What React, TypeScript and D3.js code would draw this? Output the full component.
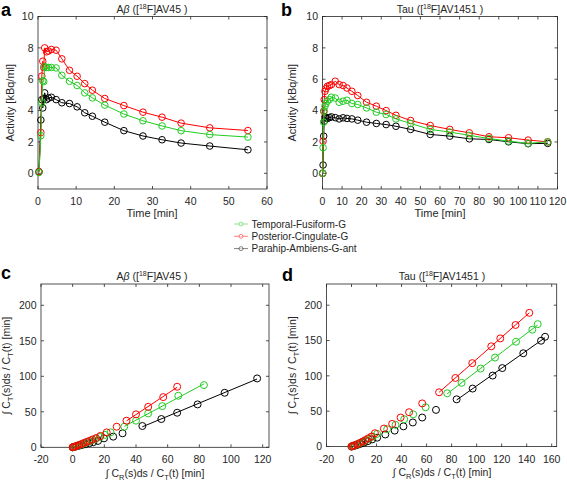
import React from "react";
import * as d3 from "d3";

// ---------- data ----------
const avTimes = [0.25, 0.75, 1.0, 1.25, 1.5, 1.75, 2.25, 2.75, 3.5, 4.75, 6.25, 8.25, 10.25, 12.25, 14.25, 17.5, 22.5, 27.5, 32.5, 37.5, 45, 55];
const avGreen = [0.05, 2.4, 4.5, 5.9, 5.85, 6.8, 6.75, 6.75, 6.75, 6.72, 6.25, 5.87, 5.6, 5.13, 4.81, 4.35, 3.78, 3.35, 3.02, 2.72, 2.47, 2.31];
const avRed = [0.1, 2.6, 6.2, 7.15, 6.75, 8.0, 7.75, 7.8, 7.9, 7.85, 7.3, 6.57, 6.19, 5.72, 5.3, 4.77, 4.32, 3.9, 3.58, 3.2, 2.9, 2.73];
const avBlack = [0.1, 3.4, 4.7, 4.17, 4.77, 5.13, 4.7, 4.8, 4.85, 4.7, 4.5, 4.45, 4.24, 3.86, 3.64, 3.26, 2.72, 2.38, 2.14, 1.93, 1.74, 1.5];

const tauTimes = [0.1, 0.3, 0.6, 0.9, 1.25, 1.75, 2.5, 3.5, 4.5, 6.5, 8.5, 10.5, 12.5, 15, 18, 22.5, 27.5, 32.5, 37.5, 45, 55, 65, 75, 85, 95, 105, 115];
const tauGreen = [0, 1.63, 3.26, 3.96, 4.28, 4.45, 4.6, 4.7, 4.85, 4.8, 4.53, 4.6, 4.66, 4.45, 4.39, 4.17, 3.9, 3.75, 3.47, 3.18, 2.8, 2.63, 2.42, 2.22, 2.05, 1.91, 2.01];
const tauRed = [0, 2.05, 3.96, 4.7, 5.23, 5.4, 5.55, 5.6, 5.65, 5.87, 5.66, 5.6, 5.44, 5.23, 4.96, 4.53, 4.28, 4.0, 3.7, 3.37, 3.05, 2.8, 2.58, 2.33, 2.27, 2.12, 2.01];
const tauBlack = [0, 0.53, 2.37, 3.33, 3.6, 3.54, 3.5, 3.55, 3.6, 3.55, 3.47, 3.54, 3.5, 3.47, 3.39, 3.26, 3.18, 3.11, 3.0, 2.8, 2.48, 2.37, 2.2, 2.16, 2.01, 1.89, 1.91];

// Logan plots (x = ∫CR/CT, y = ∫CT/CT), fitStart = first index of linear fit
const loganAvGreenX = [0, 0.6, 1.8, 3.2, 4.7, 6.3, 8, 10, 12, 14.5, 17.2, 20.5, 24, 32.6, 40, 47.7, 56.6, 66.7, 82.9];
const loganAvGreenY = [0, 0.5, 1.3, 2.4, 3.5, 4.8, 6.3, 8, 9.8, 12, 14.5, 17.5, 21, 29, 37.5, 47.8, 58, 72.6, 87.6];
const loganAvRedX = [0, 0.5, 1.5, 2.8, 4, 5.5, 7, 8.7, 10.5, 12.5, 14.8, 17.5, 21.5, 27.8, 34, 40, 47.7, 57.2, 66];
const loganAvRedY = [0, 0.5, 1.2, 2.2, 3.3, 4.5, 6, 7.5, 9, 11, 13, 16, 21, 29, 37.5, 46.4, 57, 70.7, 85.3];
const loganAvBlackX = [0, 0.8, 2.2, 4, 6, 8.2, 10.5, 13, 16, 19.8, 25.6, 31.5, 44, 56, 66, 78.9, 96, 116.5];
const loganAvBlackY = [0, 0.4, 1.2, 2.2, 3.3, 4.5, 5.8, 7.2, 9, 12.6, 15, 19.7, 30, 39.8, 48.7, 60.4, 76.8, 97];
const loganAvFitStart = [13, 14, 12];

const loganTauGreenX = [0, 1.2, 2.5, 4.2, 6.1, 8.5, 11.2, 14, 17, 20.5, 28.5, 35.2, 42.1, 49.3, 59.2, 76.5, 88, 103.2, 114.7, 131.5, 144.5, 148.8];
const loganTauGreenY = [0, 0.8, 1.8, 3, 4.5, 6.2, 8.5, 11, 14, 17.9, 24.5, 30.6, 38.6, 45.6, 55.5, 75.3, 90.1, 110.3, 125.9, 148.3, 165.3, 173.2];
const loganTauRedX = [0, 1, 2.3, 4.5, 6.7, 8.8, 10.9, 13.3, 15.9, 18.7, 25.9, 32.5, 39.2, 46, 56.5, 70, 83, 96.5, 111.7, 118.9, 131.1, 142.1];
const loganTauRedY = [0, 0.8, 1.8, 3.2, 5, 7, 9, 11.5, 14, 18.8, 25.4, 32, 41, 48.5, 61, 76.7, 97, 118, 141.8, 153, 172, 189.2];
const loganTauBlackX = [0, 1.3, 3, 5, 7.5, 10, 13, 16.5, 20.5, 27, 34.5, 41.5, 49, 56.5, 67.5, 84, 96.8, 112.8, 120.5, 137.3, 151.5, 154.7];
const loganTauBlackY = [0, 0.6, 1.4, 2.5, 4, 5.5, 7.5, 10, 12.5, 17, 22.5, 28.5, 34, 41, 51.8, 66.8, 82, 100.4, 111, 132, 149.7, 155.3];
const loganTauFitStart = [15, 15, 15];

const seriesNames = ["Temporal-Fusiform-G", "Posterior-Cingulate-G", "Parahip-Ambiens-G-ant"];
const seriesColors = ["#22cc22", "#ff0000", "#000000"];

const activityTicksY = [0, 2, 4, 6, 8, 10];
const avTicksX = [0, 10, 20, 30, 40, 50, 60];
const tauTicksX = [0, 10, 20, 30, 40, 50, 60, 70, 80, 90, 100, 110, 120];
const loganTicksY = [0, 50, 100, 150, 200];
const loganAvTicksX = [-20, 0, 20, 40, 60, 80, 100, 120];
const loganTauTicksX = [-20, 0, 20, 40, 60, 80, 100, 120, 140, 160];

// ---------- styling ----------
const FONT = "'Liberation Sans', Arial, Helvetica, sans-serif";
const TXT = "#262626";
const AX = "#262626";

type Scale = d3.ScaleLinear<number, number>;

function Axes({ xs, ys, xticks, yticks }: { xs: Scale; ys: Scale; xticks: number[]; yticks: number[] }) {
  const [x0, x1] = xs.range();
  const [y0, y1] = ys.range(); // y0 bottom, y1 top
  const tl = 3;
  return (
    <g>
      <rect x={x0} y={y1} width={x1 - x0} height={y0 - y1} fill="none" stroke={AX} strokeWidth={0.8} />
      {xticks.map((t) => (
        <g key={"x" + t}>
          <line x1={xs(t)} x2={xs(t)} y1={y0} y2={y0 - tl} stroke={AX} strokeWidth={0.8} />
          <line x1={xs(t)} x2={xs(t)} y1={y1} y2={y1 + tl} stroke={AX} strokeWidth={0.8} />
          <text x={xs(t)} y={y0 + 16} textAnchor="middle" fontSize={10.5} fill={TXT} fontFamily={FONT}>
            {t}
          </text>
        </g>
      ))}
      {yticks.map((t) => (
        <g key={"y" + t}>
          <line x1={x0} x2={x0 + tl} y1={ys(t)} y2={ys(t)} stroke={AX} strokeWidth={0.8} />
          <line x1={x1} x2={x1 - tl} y1={ys(t)} y2={ys(t)} stroke={AX} strokeWidth={0.8} />
          <text x={x0 - 4.5} y={ys(t) + 3.8} textAnchor="end" fontSize={10.5} fill={TXT} fontFamily={FONT}>
            {t}
          </text>
        </g>
      ))}
    </g>
  );
}

function Title({ x, y, prefix, tracer }: { x: number; y: number; prefix: React.ReactNode; tracer: string }) {
  return (
    <text x={x} y={y} textAnchor="middle" fontSize={10.5} fill={TXT} fontFamily={FONT}>
      {prefix}
      {" (["}
      <tspan fontSize={7} dy={-4}>18</tspan>
      <tspan dy={4}>{"F]" + tracer + " )"}</tspan>
    </text>
  );
}

function TimeSeries({ xs, ys, times, vals, color }: { xs: Scale; ys: Scale; times: number[]; vals: number[]; color: string }) {
  const pts = times.map((t, i) => [t, vals[i]] as [number, number]);
  const line = d3.line<[number, number]>().x((d) => xs(d[0])).y((d) => ys(d[1]));
  return (
    <g>
      <path d={line(pts) || ""} fill="none" stroke={color} strokeWidth={1} />
      {pts.map((d, i) => (
        <circle key={i} cx={xs(d[0])} cy={ys(d[1])} r={3.3} fill="none" stroke={color} strokeWidth={1} />
      ))}
    </g>
  );
}

function fit(xv: number[], yv: number[]) {
  const mx = d3.mean(xv)!;
  const my = d3.mean(yv)!;
  let num = 0, den = 0;
  xv.forEach((x, i) => {
    num += (x - mx) * (yv[i] - my);
    den += (x - mx) * (x - mx);
  });
  const b = num / den;
  return { a: my - b * mx, b };
}

function Logan({ xs, ys, xv, yv, start, color }: { xs: Scale; ys: Scale; xv: number[]; yv: number[]; start: number; color: string }) {
  const fx = xv.slice(start);
  const fy = yv.slice(start);
  const { a, b } = fit(fx, fy);
  const xa = fx[0];
  const xb = fx[fx.length - 1];
  return (
    <g>
      <line x1={xs(xa)} y1={ys(a + b * xa)} x2={xs(xb)} y2={ys(a + b * xb)} stroke={color} strokeWidth={1} />
      {xv.map((x, i) => (
        <circle key={i} cx={xs(x)} cy={ys(yv[i])} r={3.5} fill="none" stroke={color} strokeWidth={1} />
      ))}
    </g>
  );
}

function LoganYLabel({ x, y }: { x: number; y: number }) {
  return (
    <text transform={`translate(${x},${y}) rotate(-90)`} textAnchor="middle" fontSize={10.5} fill={TXT} fontFamily={FONT}>
      {"∫ C"}
      <tspan fontSize={7.5} dy={3}>T</tspan>
      <tspan dy={-3}>{"(s)ds / C"}</tspan>
      <tspan fontSize={7.5} dy={3}>T</tspan>
      <tspan dy={-3}>{"(t) [min]"}</tspan>
    </text>
  );
}

function LoganXLabel({ x, y }: { x: number; y: number }) {
  return (
    <text x={x} y={y} textAnchor="middle" fontSize={10.5} fill={TXT} fontFamily={FONT}>
      {"∫ C"}
      <tspan fontSize={7.5} dy={3}>R</tspan>
      <tspan dy={-3}>{"(s)ds / C"}</tspan>
      <tspan fontSize={7.5} dy={3}>T</tspan>
      <tspan dy={-3}>{"(t) [min]"}</tspan>
    </text>
  );
}

export default function App() {
  const xA = d3.scaleLinear().domain([0, 60]).range([38, 267]);
  const yA = d3.scaleLinear().domain([-1, 10]).range([189, 16.5]);
  const xB = d3.scaleLinear().domain([0, 120]).range([322.5, 557.5]);
  const yB = d3.scaleLinear().domain([-1, 10]).range([189, 16.5]);
  const xC = d3.scaleLinear().domain([-20, 124]).range([41, 269]);
  const yC = d3.scaleLinear().domain([0, 230]).range([447.3, 284]);
  const xD = d3.scaleLinear().domain([-20, 164]).range([326.5, 556.7]);
  const yD = d3.scaleLinear().domain([0, 230]).range([446.5, 284]);

  const avVals = [avGreen, avRed, avBlack];
  const tauVals = [tauGreen, tauRed, tauBlack];
  const lavX = [loganAvGreenX, loganAvRedX, loganAvBlackX];
  const lavY = [loganAvGreenY, loganAvRedY, loganAvBlackY];
  const ltX = [loganTauGreenX, loganTauRedX, loganTauBlackX];
  const ltY = [loganTauGreenY, loganTauRedY, loganTauBlackY];

  const abeta = (
    <>
      {"A"}
      <tspan fontStyle="italic">β</tspan>
    </>
  );

  return (
    <svg width={567} height={484} style={{ position: "absolute", left: 0, top: 0, background: "#fff" }}>
      <rect width={567} height={484} fill="#fff" />
      {/* panel a */}
      <Axes xs={xA} ys={yA} xticks={avTicksX} yticks={activityTicksY} />
      {[2, 1, 0].map((i) => (
        <TimeSeries key={i} xs={xA} ys={yA} times={avTimes} vals={avVals[i]} color={seriesColors[i]} />
      ))}
      <Title x={152} y={12.5} prefix={abeta} tracer="AV45" />
      <text x={152} y={217} textAnchor="middle" fontSize={11} fill={TXT} fontFamily={FONT}>Time [min]</text>
      <text transform={`translate(14,${(189 + 16.5) / 2}) rotate(-90)`} textAnchor="middle" fontSize={11} fill={TXT} fontFamily={FONT}>
        Activity [kBq/ml]
      </text>
      <text x={1} y={16} fontSize={18} fontWeight="bold" fill="#000" fontFamily={FONT}>a</text>

      {/* panel b */}
      <Axes xs={xB} ys={yB} xticks={tauTicksX} yticks={activityTicksY} />
      {[2, 1, 0].map((i) => (
        <TimeSeries key={i} xs={xB} ys={yB} times={tauTimes} vals={tauVals[i]} color={seriesColors[i]} />
      ))}
      <Title x={440} y={12.5} prefix="Tau" tracer="AV1451" />
      <text x={440} y={217} textAnchor="middle" fontSize={11} fill={TXT} fontFamily={FONT}>Time [min]</text>
      <text transform={`translate(296,${(189 + 16.5) / 2}) rotate(-90)`} textAnchor="middle" fontSize={11} fill={TXT} fontFamily={FONT}>
        Activity [kBq/ml]
      </text>
      <text x={281} y={16} fontSize={18} fontWeight="bold" fill="#000" fontFamily={FONT}>b</text>

      {/* legend */}
      {seriesNames.map((n, i) => (
        <g key={n}>
          <line x1={234} x2={248} y1={224 + i * 12.3} y2={224 + i * 12.3} stroke={seriesColors[i]} strokeWidth={0.8} opacity={0.6} />
          <circle cx={241} cy={224 + i * 12.3} r={2} fill="#fff" stroke={seriesColors[i]} strokeWidth={0.8} opacity={0.6} />
          <text x={251.5} y={224 + i * 12.3 + 3.6} fontSize={10} fill={TXT} fontFamily={FONT}>{n}</text>
        </g>
      ))}

      {/* panel c */}
      <Axes xs={xC} ys={yC} xticks={loganAvTicksX} yticks={loganTicksY} />
      {[2, 0, 1].map((i) => (
        <Logan key={i} xs={xC} ys={yC} xv={lavX[i]} yv={lavY[i]} start={loganAvFitStart[i]} color={seriesColors[i]} />
      ))}
      <Title x={152} y={280} prefix={abeta} tracer="AV45" />
      <LoganXLabel x={155} y={477} />
      <LoganYLabel x={10} y={(447.3 + 284) / 2} />
      <text x={1} y={279} fontSize={18} fontWeight="bold" fill="#000" fontFamily={FONT}>c</text>

      {/* panel d */}
      <Axes xs={xD} ys={yD} xticks={loganTauTicksX} yticks={loganTicksY} />
      {[2, 0, 1].map((i) => (
        <Logan key={i} xs={xD} ys={yD} xv={ltX[i]} yv={ltY[i]} start={loganTauFitStart[i]} color={seriesColors[i]} />
      ))}
      <Title x={442} y={280} prefix="Tau" tracer="AV1451" />
      <LoganXLabel x={442} y={476} />
      <LoganYLabel x={296} y={(446.5 + 284) / 2} />
      <text x={282} y={281} fontSize={18} fontWeight="bold" fill="#000" fontFamily={FONT}>d</text>
    </svg>
  );
}
